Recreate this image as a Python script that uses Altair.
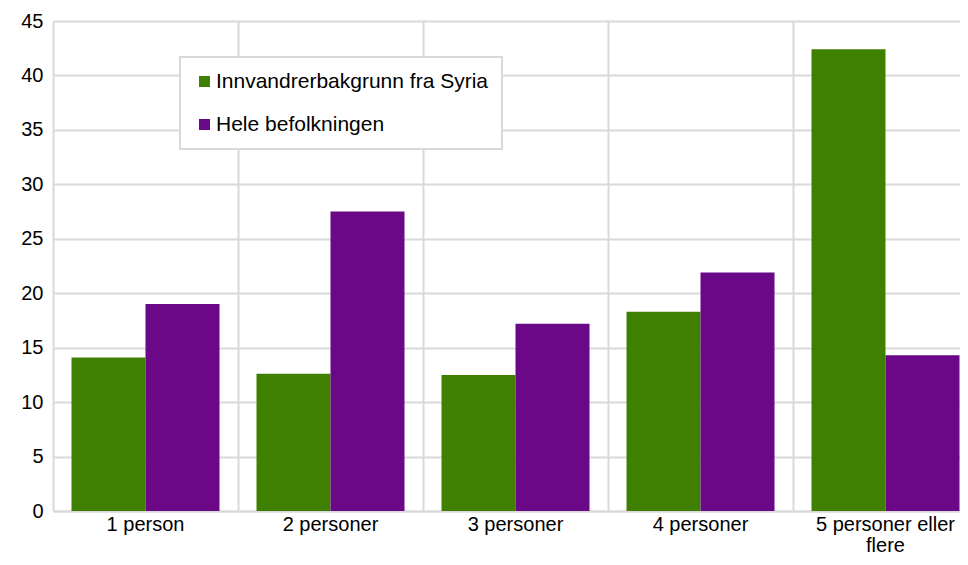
import altair as alt
import pandas as pd

categories = ["1 person", "2 personer", "3 personer", "4 personer", "5 personer eller flere"]
series = ["Innvandrerbakgrunn fra Syria", "Hele befolkningen"]
syria = [14.1, 12.6, 12.5, 18.3, 42.4]
hele = [19.0, 27.5, 17.2, 21.9, 14.3]
colors = ["#408000", "#6a0888"]
y_ticks = [0, 5, 10, 15, 20, 25, 30, 35, 40, 45]

rows = []
for c, a, b in zip(categories, syria, hele):
    rows.append({"kategori": c, "serie": series[0], "verdi": a})
    rows.append({"kategori": c, "serie": series[1], "verdi": b})
df = pd.DataFrame(rows)

FONT = "Liberation Sans"
GRID = "#d9d9d9"

chart = alt.Chart(df).mark_bar().encode(
    x=alt.X(
        "kategori:N",
        sort=categories,
        title=None,
        scale=alt.Scale(paddingInner=0, paddingOuter=0, range=[0, 925]),
        axis=alt.Axis(
            bandPosition=0,
            grid=True,
            gridColor=GRID,
            gridWidth=2,
            ticks=False,
            domainColor=GRID,
            domainWidth=2,
            labelAngle=0,
            labelFont=FONT,
            labelFontSize=20,
            labelColor="#000000",
            labelPadding=3,
            labelLineHeight=21,
            labelExpr="datum.label == '5 personer eller flere' ? ['5 personer eller', 'flere'] : datum.label",
        ),
    ),
    xOffset=alt.XOffset(
        "serie:N",
        sort=series,
        scale=alt.Scale(paddingInner=0, paddingOuter=0.25),
    ),
    y=alt.Y(
        "verdi:Q",
        title=None,
        scale=alt.Scale(domain=[0, 45], nice=False),
        axis=alt.Axis(
            values=y_ticks,
            grid=True,
            gridColor=GRID,
            gridWidth=2,
            domain=False,
            ticks=False,
            labelFont=FONT,
            labelFontSize=20,
            labelColor="#000000",
            labelPadding=10,
        ),
    ),
    color=alt.Color(
        "serie:N",
        scale=alt.Scale(domain=series, range=colors),
        legend=alt.Legend(
            orient="none",
            legendX=127,
            legendY=36,
            title=None,
            symbolType="square",
            symbolSize=121,
            symbolStrokeWidth=0,
            labelFont=FONT,
            labelFontSize=21,
            labelColor="#000000",
            labelOffset=1,
            labelLimit=400,
            rowPadding=21,
            padding=14,
            strokeColor=GRID,
            fillColor="#ffffff",
        ),
    ),
).properties(
    width=907,
    height=490,
    autosize=alt.AutoSizeParams(type="none"),
    padding={"left": 45, "top": 13, "right": 0, "bottom": 46},
).configure_view(
    stroke=None
).configure_legend(
    strokeWidth=2
)

chart.save("out.html", embed_options={"renderer": "svg", "actions": False})
